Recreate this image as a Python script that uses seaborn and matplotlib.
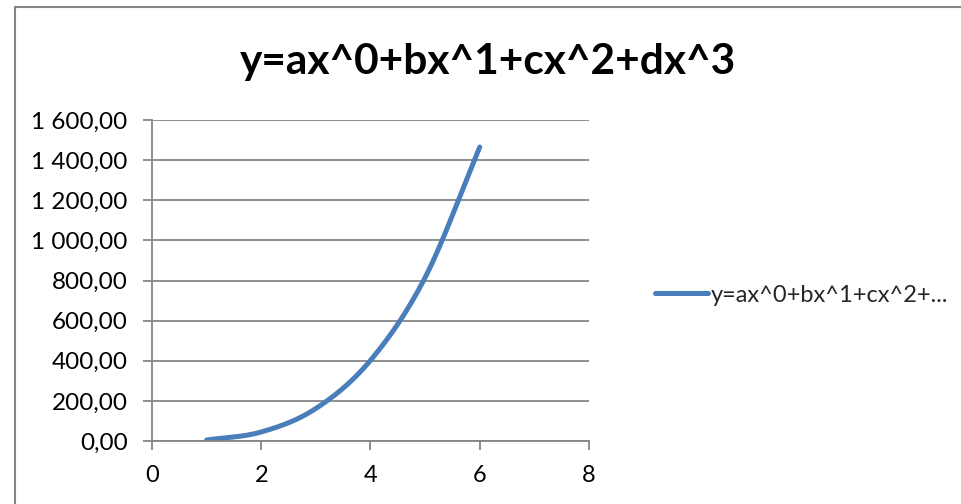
import numpy as np
import pandas as pd
import matplotlib
matplotlib.use("Agg")
import matplotlib.pyplot as plt
from matplotlib.ticker import FuncFormatter
from matplotlib.lines import Line2D
import seaborn as sns

# ---- data ----
x_values = [1, 2, 3, 4, 5, 6]
y_values = [5, 45, 162, 402, 815, 1465]
legend_label = "y=ax^0+bx^1+cx^2+..."
title_text = "y=ax^0+bx^1+cx^2+dx^3"
x_ticks = [0, 2, 4, 6, 8]
y_ticks = [0, 200, 400, 600, 800, 1000, 1200, 1400, 1600]

sns.set_theme(style="white")
plt.rcParams["font.family"] = ["Lato", "DejaVu Sans"]

fig = plt.figure(figsize=(9.62, 5.04), dpi=100)
ax = fig.add_axes([152/962, 1-441/504, (589-152)/962, (441-120)/504])

# smooth line (Catmull-Rom, like Excel's smoothed line) for drawing only
def smooth(xs, ys, n=30):
    xs = np.asarray(xs, float); ys = np.asarray(ys, float)
    P = np.column_stack([xs, ys])
    P = np.vstack([2*P[0]-P[1], P, 2*P[-1]-P[-2]])
    out = []
    for i in range(1, len(P)-2):
        p0, p1, p2, p3 = P[i-1], P[i], P[i+1], P[i+2]
        t = np.linspace(0, 1, n, endpoint=(i == len(P)-3))[:, None]
        c = 0.5*((2*p1) + (-p0+p2)*t + (2*p0-5*p1+4*p2-p3)*t**2 + (-p0+3*p1-3*p2+p3)*t**3)
        out.append(c)
    out = np.vstack(out)
    return out[:, 0], out[:, 1]

sx, sy = smooth(x_values, y_values)
df = pd.DataFrame({"x": sx, "y": sy, "series": legend_label})
sns.lineplot(data=df, x="x", y="y", hue="series", palette=["#4A7EBB"],
             linewidth=3.6, ax=ax, sort=False, estimator=None,
             solid_capstyle="round")

ax.set_xlim(0, 8)
ax.set_ylim(0, 1600)
ax.set_xticks(x_ticks)
ax.set_yticks(y_ticks)
ax.set_xlabel("")
ax.set_ylabel("")

def fmt(v, pos):
    s = f"{v:,.2f}"
    return s.replace(",", " ").replace(".", ",")
ax.yaxis.set_major_formatter(FuncFormatter(fmt))
ax.xaxis.set_major_formatter(FuncFormatter(lambda v, p: f"{int(v)}"))

gray = "#868686"
ax.grid(axis="y", color=gray, linewidth=1.3)
ax.set_axisbelow(True)
for s in ["top", "right"]:
    ax.spines[s].set_visible(False)
for s in ["left", "bottom"]:
    ax.spines[s].set_color(gray)
    ax.spines[s].set_linewidth(1.3)
ax.tick_params(axis="both", direction="out", length=6.5, width=1.3, color=gray,
               labelsize=17, labelcolor="black", left=True, bottom=True)
ax.tick_params(axis="y", labelsize=17.5, pad=11)
ax.tick_params(axis="x", pad=11)

fig.text(488/962, 1-62/504, title_text, ha="center", va="center",
         fontsize=30.5, fontweight="bold", color="black")

handles, labels = ax.get_legend_handles_labels()
ax.legend(handles, labels, loc="center left",
          bbox_to_anchor=(655/962, 1-295/504), bbox_transform=fig.transFigure,
          frameon=False, fontsize=17, handlelength=2.25, handletextpad=0.13,
          borderpad=0, borderaxespad=0)

# chart frame (left and top edges)
fig.add_artist(Line2D([15/962, 15/962], [0, 1-7/504], transform=fig.transFigure,
                      color=gray, linewidth=1.5))
fig.add_artist(Line2D([15/962, 1], [1-7/504, 1-7/504], transform=fig.transFigure,
                      color=gray, linewidth=1.5))

fig.savefig("out.png", dpi=100)
